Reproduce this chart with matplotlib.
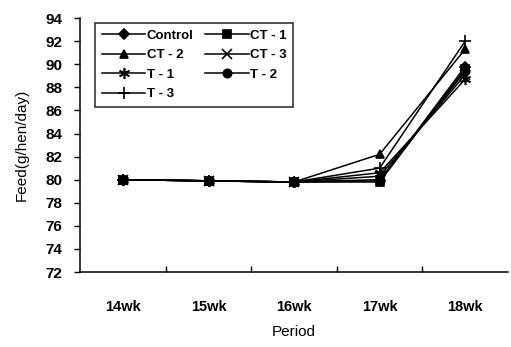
import matplotlib.pyplot as plt

periods = ['14wk', '15wk', '16wk', '17wk', '18wk']
control = [80.0, 79.9, 79.8, 79.9, 89.8]
ct1 = [80.0, 79.9, 79.8, 79.8, 89.6]
ct2 = [80.0, 79.9, 79.8, 82.2, 91.3]
ct3 = [80.0, 79.9, 79.8, 80.3, 89.1]
t1 = [80.0, 79.9, 79.8, 80.6, 88.7]
t2 = [80.0, 79.9, 79.8, 80.0, 89.4]
t3 = [80.0, 79.9, 79.8, 81.0, 92.0]

series = [
    ('Control', control, 'D', 5),
    ('CT - 1', ct1, 's', 5.5),
    ('CT - 2', ct2, '^', 6),
    ('CT - 3', ct3, 'x', 7),
    ('T - 1', t1, (6, 2, 0), 8),
    ('T - 2', t2, 'o', 6),
    ('T - 3', t3, '+', 9),
]

plt.rcParams['font.family'] = ['Liberation Sans', 'DejaVu Sans']

fig = plt.figure(figsize=(5.11, 3.47), dpi=100)
ax = fig.add_axes([0.157, 0.216, 0.837, 0.732])

x = list(range(len(periods)))
lines = {}
for name, vals, mk, ms in series:
    ln, = ax.plot(x, vals, color='black', lw=1.1, marker=mk, markersize=ms,
                  markeredgewidth=1.2, label=name)
    lines[name] = ln

ax.set_xlim(-0.5, 4.5)
ax.set_ylim(72, 94)
ax.set_yticks(range(72, 95, 2))
ax.set_xticks(x)
ax.set_xticklabels(periods, fontsize=10.5, fontweight='bold')
ax.tick_params(axis='x', which='major', length=0, pad=20)
ax.set_xticks([0.5, 1.5, 2.5, 3.5], minor=True)
ax.tick_params(axis='x', which='minor', direction='in', length=4, width=1)
ax.tick_params(axis='y', direction='out', length=4, width=1, labelsize=11, pad=9)
for lab in ax.get_yticklabels():
    lab.set_fontweight('bold')

for s in ['top', 'right']:
    ax.spines[s].set_visible(False)
for s in ['left', 'bottom']:
    ax.spines[s].set_linewidth(1.1)

ax.set_xlabel('Period', fontsize=11, labelpad=8)
ax.set_ylabel('Feed(g/hen/day)', fontsize=11, labelpad=12)

# row-major order as in the original legend
order = ['Control', 'CT - 2', 'T - 1', 'T - 3', 'CT - 1', 'CT - 3', 'T - 2']
leg = ax.legend([lines[n] for n in order], order, loc='upper left', ncol=2,
                fontsize=9.5, frameon=True, fancybox=False, handlelength=3.3,
                columnspacing=0.9, handletextpad=0.1, labelspacing=0.55,
                borderpad=0.5, borderaxespad=0, bbox_to_anchor=(0.035, 0.98))
leg.get_frame().set_edgecolor('black')
leg.get_frame().set_linewidth(1.2)
for t in leg.get_texts():
    t.set_fontweight('bold')

fig.savefig('out.png', dpi=100)
